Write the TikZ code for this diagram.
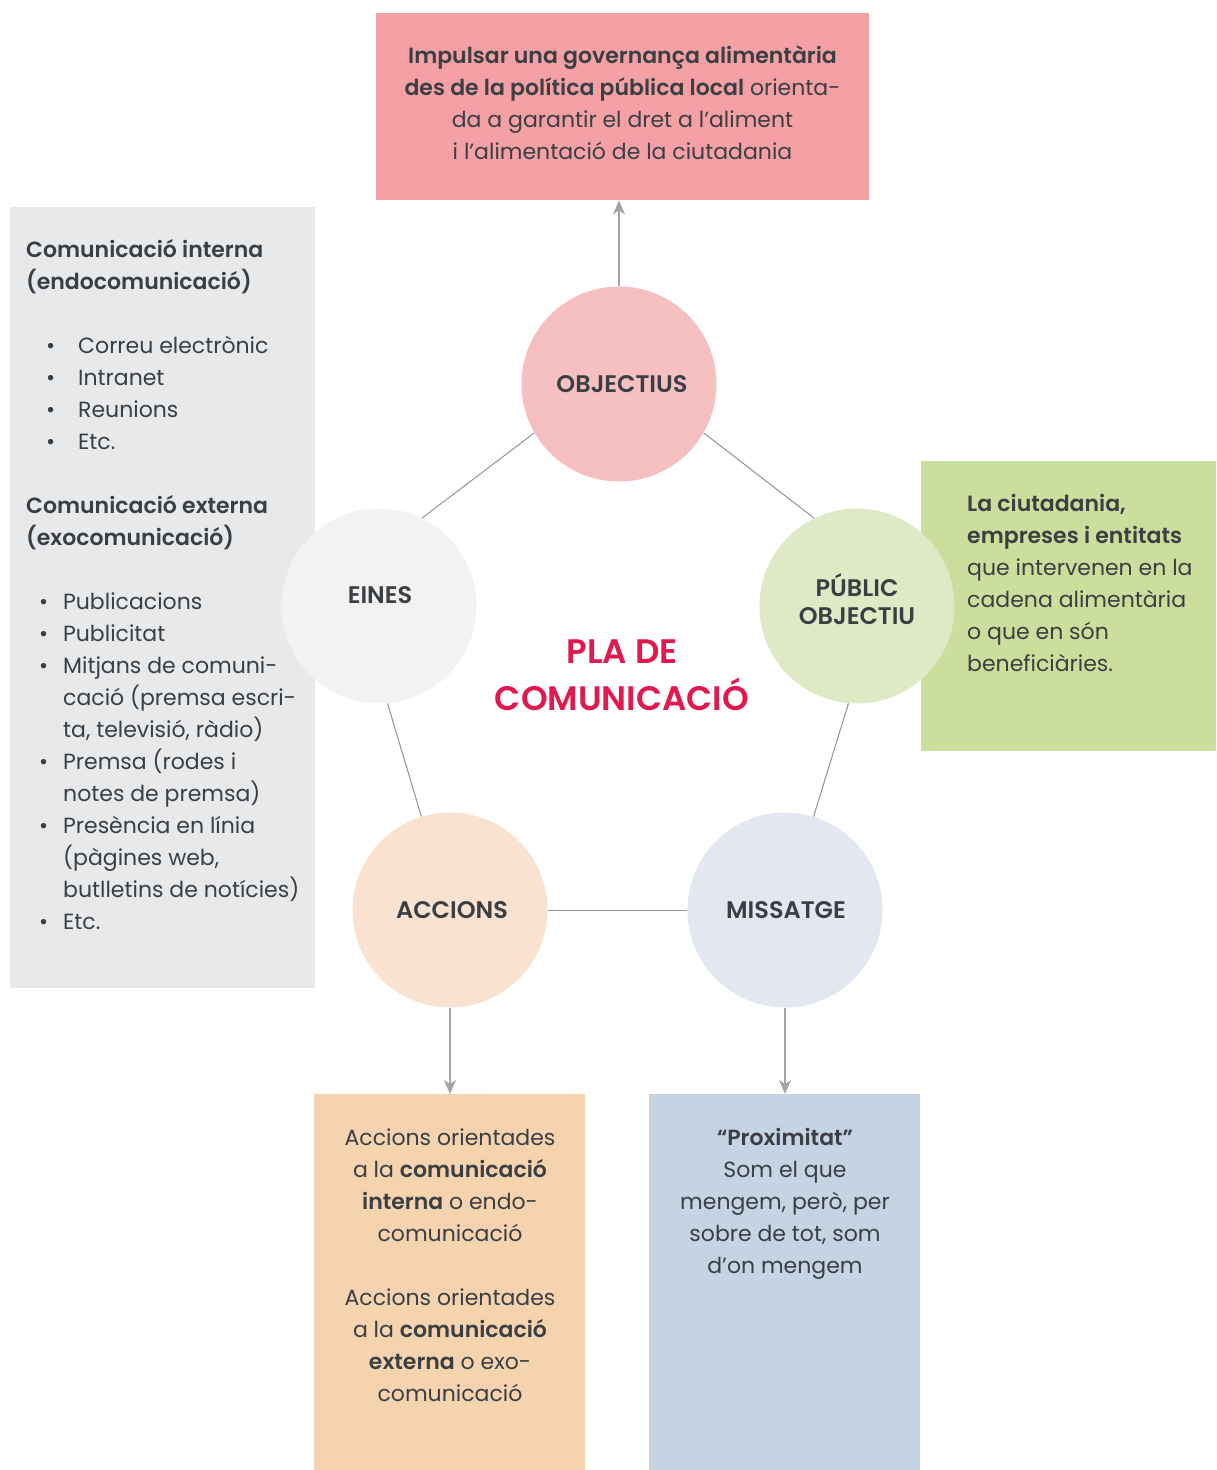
\documentclass[tikz,border=0pt]{standalone}
\usepackage{fontspec}
\setmainfont{Poppins}[BoldFont={Poppins SemiBold}]
\usetikzlibrary{arrows.meta}
\definecolor{txt}{HTML}{3A3F44}
\definecolor{redtxt}{HTML}{E1194F}
\definecolor{topbox}{HTML}{F4A0A5}
\definecolor{objc}{HTML}{F6BFC0}
\definecolor{greybox}{HTML}{E8E9EA}
\definecolor{einesc}{HTML}{F2F2F2}
\definecolor{greenbox}{HTML}{CCDE9C}
\definecolor{pubc}{HTML}{E0E9C6}
\definecolor{orangebox}{HTML}{F6D3AF}
\definecolor{accc}{HTML}{F9E2D0}
\definecolor{bluebox}{HTML}{C5D3E3}
\definecolor{missc}{HTML}{E3E8F0}
\definecolor{arrowgray}{HTML}{A1A5A9}
\definecolor{linegray}{HTML}{8F9397}
\tikzset{
  panel/.style={rectangle, draw=none, inner sep=0pt, anchor=north west},
  bubble/.style={circle, draw=none, inner sep=0pt, minimum size=195pt},
  bodytext/.style={inner sep=0pt, text=txt, font=\fontsize{22}{32}\selectfont},
  caplabel/.style={inner sep=0pt, text=txt, font=\bfseries\fontsize{24}{28}\selectfont, text height=17pt, text depth=0pt},
  link/.style={draw=linegray, line width=1pt},
  flow/.style={draw=arrowgray, line width=1.5pt, -{Stealth[length=14pt, width=12pt, inset=4pt]}},
}
\begin{document}
\begin{tikzpicture}[x=1pt, y=-1pt]
\useasboundingbox (0,0) rectangle (1216,1470);

% panels
\node[panel, fill=topbox, minimum width=493pt, minimum height=187pt] (top) at (376,13) {};
\node[panel, fill=greybox, minimum width=305pt, minimum height=781pt] (grey) at (10,207) {};
\node[panel, fill=greenbox, minimum width=295pt, minimum height=290pt] (green) at (921,461) {};
\node[panel, fill=orangebox, minimum width=271pt, minimum height=376pt] (orange) at (314,1094) {};
\node[panel, fill=bluebox, minimum width=271pt, minimum height=376pt] (blue) at (649,1094) {};

% circles
\node[bubble, fill=objc] (obj) at (619,384) {};
\node[bubble, fill=einesc] (eines) at (379,606) {};
\node[bubble, fill=pubc] (pub) at (857,606) {};
\node[bubble, fill=accc] (acc) at (450,910) {};
\node[bubble, fill=missc] (miss) at (785,910) {};

% links
\draw[link] (obj.210) -- (eines.64);
\draw[link] (obj.330) -- (pub.116);
\draw[link] (eines.275) -- (acc.107);
\draw[link] (pub.265) -- (miss.73);
\draw[link] (acc.east) -- (miss.west);

% arrows
\draw[flow] (obj.north) -- (obj.north |- top.south);
\draw[flow] (acc.south) -- (acc.south |- orange.north);
\draw[flow] (miss.south) -- (miss.south |- blue.north);

% circle labels
\node[caplabel] (lobj) at (622,384) {OBJECTIUS};
\node[caplabel] (leines) at (380,595) {EINES};
\node[caplabel, align=center, text height=, text depth=] (lpub) at (857,603) {\strut PÚBLIC\\OBJECTIU\strut};
\node[caplabel] (lacc) at (452,910) {ACCIONS};
\node[caplabel] (lmiss) at (786,910) {MISSATGE};

% centre title
\node[inner sep=0pt, text=redtxt, align=center, font=\bfseries\fontsize{34}{44}\selectfont] (title) at (622,678) {\strut PLA DE\\COMUNICACIÓ\strut};

% texts
\node[bodytext, anchor=north, align=center] (ttop) at (622.5,40.6) {\strut\textbf{Impulsar una governança alimentària}\\
\textbf{des de la política pública local} orienta-\\
da a garantir el dret a l’aliment\\
i l’alimentació de la ciutadania};

\node[bodytext, anchor=north west, align=left] (tgrey) at (26,234.6) {\strut\textbf{Comunicació interna}\\
\textbf{(endocomunicació)}\\[32pt]
\hspace*{20pt}\makebox[32pt][l]{•}Correu electrònic\\
\hspace*{20pt}\makebox[32pt][l]{•}Intranet\\
\hspace*{20pt}\makebox[32pt][l]{•}Reunions\\
\hspace*{20pt}\makebox[32pt][l]{•}Etc.\\[32pt]
\textbf{Comunicació externa}\\
\textbf{(exocomunicació)}\\[32pt]
\hspace*{13pt}\makebox[24pt][l]{•}Publicacions\\
\hspace*{13pt}\makebox[24pt][l]{•}Publicitat\\
\hspace*{13pt}\makebox[24pt][l]{•}Mitjans de comuni-\\
\hspace*{37pt}cació (premsa escri-\\
\hspace*{37pt}ta, televisió, ràdio)\\
\hspace*{13pt}\makebox[24pt][l]{•}Premsa (rodes i\\
\hspace*{37pt}notes de premsa)\\
\hspace*{13pt}\makebox[24pt][l]{•}Presència en línia\\
\hspace*{37pt}(pàgines web,\\
\hspace*{37pt}butlletins de notícies)\\
\hspace*{13pt}\makebox[24pt][l]{•}Etc.};

\node[bodytext, anchor=north west, align=left] (tgreen) at (967,488.6) {\strut\textbf{La ciutadania,}\\
\textbf{empreses i entitats}\\
que intervenen en la\\
cadena alimentària\\
o que en són\\
beneficiàries.};

\node[bodytext, anchor=north, align=center] (torange) at (450,1122.6) {\strut Accions orientades\\
a la \textbf{comunicació}\\
\textbf{interna} o endo-\\
comunicació\\[32pt]
Accions orientades\\
a la \textbf{comunicació}\\
\textbf{externa} o exo-\\
comunicació};

\node[bodytext, anchor=north, align=center] (tblue) at (785,1122.6) {\strut\textbf{“Proximitat”}\\
Som el que\\
mengem, però, per\\
sobre de tot, som\\
d’on mengem};
\end{tikzpicture}
\end{document}
